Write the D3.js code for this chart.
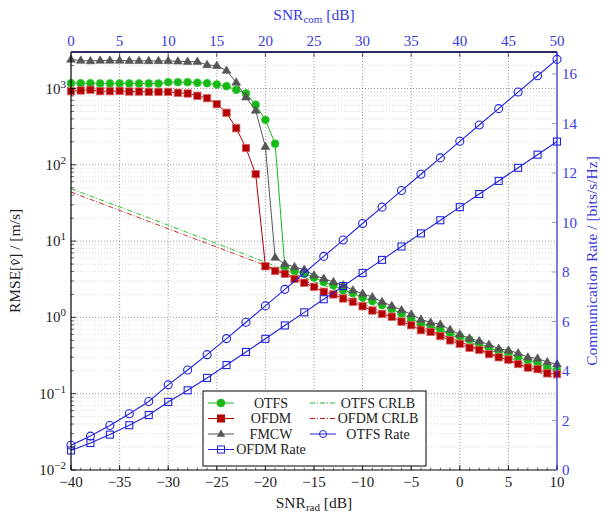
<!DOCTYPE html>
<html><head><meta charset="utf-8">
<script src="https://cdn.jsdelivr.net/npm/d3@7"></script>
<style>body{margin:0;background:#fff} text{font-family:"Liberation Serif","Times New Roman",serif;}</style>
</head><body><svg id="c" width="602" height="513"></svg>
<script>
// ---------- data ----------
const snrRad = [-40,-39,-38,-37,-36,-35,-34,-33,-32,-31,-30,-29,-28,-27,-26,-25,-24,-23,-22,-21,-20,-19,-18,-17,-16,-15,-14,-13,-12,-11,-10,-9,-8,-7,-6,-5,-4,-3,-2,-1,0,1,2,3,4,5,6,7,8,9,10];
const otfsRmse = [1172,1172,1172,1165,1165,1165,1165,1165,1165,1165,1210,1210,1210,1190,1173,1128,1072,962,861,612,389,189,4.6,4.06,3.76,3.33,2.92,2.64,2.27,2.09,1.82,1.64,1.45,1.28,1.12,0.97,0.83,0.77,0.69,0.62,0.56,0.51,0.455,0.40,0.365,0.34,0.30,0.275,0.25,0.218,0.204];
const ofdmRmse = [922,942,961,922,922,930,912,912,903,903,903,879,860,803,747,623,481,302,166,75.5,4.68,4.06,3.73,3.19,2.84,2.51,2.16,2.0,1.77,1.60,1.40,1.23,1.11,1.02,0.88,0.79,0.68,0.645,0.57,0.50,0.45,0.40,0.375,0.33,0.30,0.28,0.245,0.22,0.21,0.185,0.181];
const fmcwRmse = [2400,2330,2290,2330,2330,2330,2310,2310,2300,2300,2300,2270,2250,2250,2040,1990,1720,1200,770,515,173,6.1,5.0,4.58,4.24,3.57,3.23,2.92,2.64,2.27,2.05,1.85,1.60,1.42,1.25,1.10,0.94,0.86,0.81,0.69,0.60,0.53,0.49,0.44,0.39,0.37,0.34,0.30,0.29,0.26,0.244];
const crlbX = [-40,-30,-20,-10,0,10];
const otfsCrlb = [48.6,16.2,5.3,1.65,0.53,0.17];
const ofdmCrlb = [44,14.5,4.8,1.5,0.48,0.155];
const rateX = [-40,-38,-36,-34,-32,-30,-28,-26,-24,-22,-20,-18,-16,-14,-12,-10,-8,-6,-4,-2,0,2,4,6,8,10];
const otfsRate = [1.00,1.37,1.80,2.27,2.77,3.44,4.04,4.66,5.31,5.97,6.63,7.30,7.96,8.63,9.29,9.96,10.62,11.29,11.95,12.61,13.28,13.94,14.60,15.27,15.93,16.59];
const ofdmRate = [0.79,1.09,1.43,1.81,2.22,2.75,3.22,3.72,4.24,4.77,5.30,5.84,6.37,6.90,7.43,7.96,8.49,9.03,9.56,10.09,10.62,11.15,11.68,12.21,12.74,13.27];
const xTicks = [-40,-35,-30,-25,-20,-15,-10,-5,0,5,10];
const xTopTicks = [0,5,10,15,20,25,30,35,40,45,50];
const yExp = [-2,-1,0,1,2,3];
const rateTicks = [0,2,4,6,8,10,12,14,16];

// ---------- layout ----------
const L=71, R=557, T=52, B=470;
const svg = d3.select("#c");
const x = d3.scaleLinear([-40,10],[L,R]);
const xTop = d3.scaleLinear([0,50],[L,R]);
const y = d3.scaleLog([1e-2, Math.pow(10,(B-T)/76.3-2)],[B,T]);
const yR = d3.scaleLinear([0,(B-T)/24.75],[B,T]);

const GREEN="#16b816", RED="#b30000", GRAY="#555555", BLUE="#2222dd", BLUET="#3a3ae0";

// grid
const g = svg.append("g");
const minor=[];
for (let e=-2;e<=3;e++) for (let m=2;m<=9;m++){const v=m*Math.pow(10,e); if (v<y.domain()[1]) minor.push(v);}
g.selectAll(".ym").data(minor).join("line").attr("x1",L).attr("x2",R).attr("y1",d=>y(d)).attr("y2",d=>y(d))
 .attr("stroke","#c0c0c0").attr("stroke-width",0.6).attr("stroke-dasharray","1,2");
g.selectAll(".yM").data(yExp.slice(1)).join("line").attr("x1",L).attr("x2",R).attr("y1",d=>y(Math.pow(10,d))).attr("y2",d=>y(Math.pow(10,d)))
 .attr("stroke","#808080").attr("stroke-width",0.8).attr("stroke-dasharray","1,2");
g.selectAll(".xM").data(xTicks.slice(1,-1)).join("line").attr("y1",T).attr("y2",B).attr("x1",d=>x(d)).attr("x2",d=>x(d))
 .attr("stroke","#808080").attr("stroke-width",0.8).attr("stroke-dasharray","1,2");

// ---------- data lines ----------
const plot = svg.append("g");
function series(xs, ys, sx, sy, color, opts){
  const line = d3.line().x((d,i)=>sx(xs[i])).y(d=>sy(d));
  plot.append("path").attr("d",line(ys)).attr("fill","none").attr("stroke",color)
    .attr("stroke-width",opts.w||1).attr("stroke-dasharray",opts.dash||null);
  if (!opts.marker) return;
  const mg = plot.append("g");
  ys.forEach((v,i)=>{
    const cx=sx(xs[i]), cy=sy(v);
    if (opts.marker==="circle") mg.append("circle").attr("cx",cx).attr("cy",cy).attr("r",opts.r||3.8)
       .attr("fill",opts.fill).attr("stroke",opts.stroke).attr("stroke-width",opts.sw||0.8);
    else if (opts.marker==="square"){const s=opts.s||7; mg.append("rect").attr("x",cx-s/2).attr("y",cy-s/2).attr("width",s).attr("height",s)
       .attr("fill",opts.fill).attr("stroke",opts.stroke).attr("stroke-width",opts.sw||0.8);}
    else if (opts.marker==="tri"){const s=4.6; mg.append("path").attr("d",`M${cx},${cy-s}L${cx+s*0.95},${cy+s*0.6}L${cx-s*0.95},${cy+s*0.6}Z`)
       .attr("fill",opts.fill).attr("stroke",opts.stroke).attr("stroke-width",0.6);}
  });
}
series(snrRad, otfsRmse, x, y, GREEN, {marker:"circle", fill:GREEN, stroke:"#40cc40", r:3.9});
series(crlbX, otfsCrlb, x, y, GREEN, {dash:"5,2,1,2", w:0.9});
series(snrRad, ofdmRmse, x, y, RED, {marker:"square", fill:RED, stroke:"#d86a6a", s:7.4});
series(crlbX, ofdmCrlb, x, y, "#cc1010", {dash:"5,2,1,2", w:0.9});
series(snrRad, fmcwRmse, x, y, GRAY, {marker:"tri", fill:GRAY, stroke:GRAY});
series(rateX, otfsRate, x, yR, BLUE, {marker:"circle", fill:"none", stroke:BLUE, r:4, sw:1.1, w:1.1});
series(rateX, ofdmRate, x, yR, BLUE, {marker:"square", fill:"none", stroke:BLUE, s:7, sw:1.1, w:1.1});

// ---------- axes ----------
const ax = svg.append("g");
ax.append("line").attr("x1",L).attr("x2",L).attr("y1",T).attr("y2",B).attr("stroke","#000").attr("stroke-width",1.2);
ax.selectAll(".lt").data(yExp).join("line").attr("x1",L).attr("x2",L+5).attr("y1",d=>y(Math.pow(10,d))).attr("y2",d=>y(Math.pow(10,d))).attr("stroke","#000").attr("stroke-width",0.8);
ax.selectAll(".lmt").data(minor).join("line").attr("x1",L).attr("x2",L+3).attr("y1",d=>y(d)).attr("y2",d=>y(d)).attr("stroke","#000").attr("stroke-width",0.6);
const yl = ax.selectAll(".yl").data(yExp).join("text").attr("x",L-5).attr("y",d=>y(Math.pow(10,d))+5)
  .attr("text-anchor","end").attr("font-size",15).attr("fill","#222");
yl.append("tspan").text("10");
yl.append("tspan").attr("dy",-6).attr("font-size",11).text(d=>String(d).replace("-","\u2212"));
ax.append("line").attr("x1",L).attr("x2",R).attr("y1",B).attr("y2",B).attr("stroke","#000").attr("stroke-width",1.2);
ax.selectAll(".bmt").data(snrRad).join("line").attr("x1",d=>x(d)).attr("x2",d=>x(d)).attr("y1",B).attr("y2",B-2.5).attr("stroke","#000").attr("stroke-width",0.6);
ax.selectAll(".bt").data(xTicks).join("line").attr("x1",d=>x(d)).attr("x2",d=>x(d)).attr("y1",B).attr("y2",B-5).attr("stroke","#000").attr("stroke-width",0.8);
ax.selectAll(".bl").data(xTicks).join("text").attr("x",d=>x(d)).attr("y",B+17).attr("text-anchor","middle")
  .attr("font-size",15).attr("fill","#222").text(d=>String(d).replace("-","\u2212"));
ax.append("line").attr("x1",L).attr("x2",R).attr("y1",T).attr("y2",T).attr("stroke","#2b2b66").attr("stroke-width",1.8);
ax.selectAll(".tt").data(xTopTicks).join("line").attr("x1",d=>xTop(d)).attr("x2",d=>xTop(d)).attr("y1",T).attr("y2",T+5).attr("stroke","#2b2b66").attr("stroke-width",0.8);
ax.selectAll(".tl").data(xTopTicks).join("text").attr("x",d=>xTop(d)).attr("y",T-6).attr("text-anchor","middle")
  .attr("font-size",15).attr("fill",BLUET).text(d=>d);
ax.append("line").attr("x1",R).attr("x2",R).attr("y1",T).attr("y2",B).attr("stroke",BLUE).attr("stroke-width",1.2);
ax.selectAll(".rt").data(rateTicks).join("line").attr("x1",R).attr("x2",R-5).attr("y1",d=>yR(d)).attr("y2",d=>yR(d)).attr("stroke","#8080c0").attr("stroke-width",0.8);
ax.selectAll(".rl").data(rateTicks).join("text").attr("x",R+5).attr("y",d=>yR(d)+5).attr("text-anchor","start")
  .attr("font-size",15).attr("fill",BLUET).text(d=>d);

// axis titles
const tb = svg.append("text").attr("x",(L+R)/2).attr("y",508).attr("text-anchor","middle").attr("font-size",15.5).attr("fill","#222");
tb.append("tspan").text("SNR");
tb.append("tspan").attr("dy",3).attr("font-size",11).text("rad");
tb.append("tspan").attr("dy",-3).text(" [dB]");
const tt = svg.append("text").attr("x",(L+R)/2).attr("y",20).attr("text-anchor","middle").attr("font-size",15.5).attr("fill",BLUET);
tt.append("tspan").text("SNR");
tt.append("tspan").attr("dy",3).attr("font-size",11).text("com");
tt.append("tspan").attr("dy",-3).text(" [dB]");
const tl = svg.append("text").attr("transform",`translate(20,${(T+B)/2}) rotate(-90)`).attr("text-anchor","middle").attr("font-size",15.5).attr("fill","#222");
tl.append("tspan").text("RMSE[");
tl.append("tspan").attr("font-style","italic").text("v\u0302");
tl.append("tspan").text("] / [m/s]");
svg.append("text").attr("transform",`translate(597,${(T+B)/2}) rotate(-90)`).attr("text-anchor","middle").attr("font-size",15.5)
  .attr("fill",BLUET).text("Communication Rate / [bits/s/Hz]");

// ---------- legend ----------
const leg = svg.append("g");
leg.append("rect").attr("x",203).attr("y",391).attr("width",223).attr("height",75).attr("fill","#fff").attr("stroke","#000").attr("stroke-width",1);
const legItems = [
  {name:"OTFS", col:0,row:0, color:GREEN, marker:"circle", fill:GREEN},
  {name:"OTFS CRLB", col:1,row:0, color:GREEN, dash:"5,2,1,2"},
  {name:"OFDM", col:0,row:1, color:RED, marker:"square", fill:RED},
  {name:"OFDM CRLB", col:1,row:1, color:"#cc1010", dash:"5,2,1,2"},
  {name:"FMCW", col:0,row:2, color:GRAY, marker:"tri", fill:GRAY},
  {name:"OTFS Rate", col:1,row:2, color:BLUE, marker:"circle", fill:"none"},
  {name:"OFDM Rate", col:0,row:3, color:BLUE, marker:"square", fill:"none"}
];
legItems.forEach(it=>{
  const ly = 403 + it.row*15.5;
  const x0 = it.col===0?208:310, x1 = x0+26, xm=(x0+x1)/2;
  leg.append("line").attr("x1",x0).attr("x2",x1).attr("y1",ly).attr("y2",ly).attr("stroke",it.color).attr("stroke-width",1).attr("stroke-dasharray",it.dash||null);
  if (it.marker==="circle") leg.append("circle").attr("cx",xm).attr("cy",ly).attr("r",it.fill==="none"?3.5:3.8).attr("fill",it.fill).attr("stroke",it.color).attr("stroke-width",1);
  if (it.marker==="square") leg.append("rect").attr("x",xm-3.5).attr("y",ly-3.5).attr("width",7).attr("height",7).attr("fill",it.fill).attr("stroke",it.color).attr("stroke-width",1);
  if (it.marker==="tri") leg.append("path").attr("d",`M${xm},${ly-4.4}L${xm+4.2},${ly+2.8}L${xm-4.2},${ly+2.8}Z`).attr("fill",it.fill);
  const tx = it.name==="OFDM Rate" ? 271 : (it.col===0?271:378);
  leg.append("text").attr("x",tx).attr("y",ly+4.5).attr("text-anchor","middle").attr("font-size",14).attr("fill","#222").text(it.name);
});
</script></body></html>
